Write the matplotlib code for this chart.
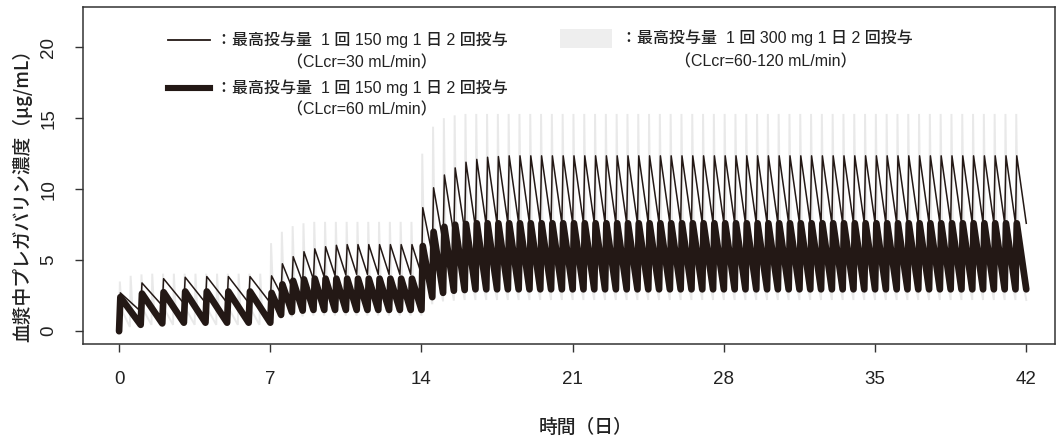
import numpy as np
import matplotlib
matplotlib.use("Agg")
import matplotlib.pyplot as plt
from matplotlib import font_manager
from matplotlib.patches import Rectangle
from matplotlib.lines import Line2D

# ---------------------------------------------------------------- data
# Dosing phases (days) and number of doses per day in each phase
phase_bounds = [0, 7, 14, 42]
doses_per_day_renal = [1, 2, 2]    # CLcr 30 / 60 regimens
doses_per_day_normal = [2, 2, 2]   # CLcr 60-120 regimen

# 150 mg BID, CLcr = 30 mL/min : pre-dose trough and post-dose peak (ug/mL)
thin_trough = ([0.0, 1.4, 1.8, 1.95, 2.0, 2.0, 2.0]
               + [2.0, 2.6, 3.1, 3.45, 3.65, 3.8, 3.9, 3.95, 4.0, 4.0, 4.0, 4.0, 4.0, 4.0]
               + [4.0, 5.4, 6.3, 6.8, 7.1, 7.3, 7.45, 7.55, 7.6, 7.6, 7.6, 7.6, 7.6, 7.6,
                  7.6, 7.6, 7.6, 7.6, 7.6, 7.6, 7.6, 7.6, 7.6, 7.6, 7.6, 7.6, 7.6, 7.6,
                  7.6, 7.6, 7.6, 7.6, 7.6, 7.6, 7.6, 7.6, 7.6, 7.6, 7.6, 7.6, 7.6, 7.6,
                  7.6, 7.6, 7.6, 7.6, 7.6, 7.6, 7.6, 7.6, 7.6, 7.6, 7.6, 7.6, 7.6, 7.6])
thin_peak = ([2.7, 3.4, 3.7, 3.8, 3.85, 3.85, 3.85]
             + [3.9, 4.75, 5.25, 5.6, 5.8, 5.95, 6.05, 6.1, 6.1, 6.1, 6.1, 6.1, 6.1, 6.1]
             + [8.7, 10.1, 11.0, 11.5, 11.9, 12.1, 12.25, 12.3, 12.35, 12.35, 12.35, 12.35, 12.35, 12.35,
                12.35, 12.35, 12.35, 12.35, 12.35, 12.35, 12.35, 12.35, 12.35, 12.35, 12.35, 12.35, 12.35, 12.35,
                12.35, 12.35, 12.35, 12.35, 12.35, 12.35, 12.35, 12.35, 12.35, 12.35, 12.35, 12.35, 12.35, 12.35,
                12.35, 12.35, 12.35, 12.35, 12.35, 12.35, 12.35, 12.35, 12.35, 12.35, 12.35, 12.35, 12.35, 12.35])
thin_end = 7.6

# 150 mg BID, CLcr = 60 mL/min
thick_trough = ([0.0, 0.45, 0.55, 0.6, 0.6, 0.6, 0.6]
                + [0.6, 1.15, 1.35, 1.45, 1.5, 1.5, 1.5, 1.5, 1.5, 1.5, 1.5, 1.5, 1.5, 1.5]
                + [1.5, 2.4, 2.7, 2.85, 2.9, 2.95, 2.95, 2.95, 2.95, 2.95, 2.95, 2.95, 2.95, 2.95,
                   2.95, 2.95, 2.95, 2.95, 2.95, 2.95, 2.95, 2.95, 2.95, 2.95, 2.95, 2.95, 2.95, 2.95,
                   2.95, 2.95, 2.95, 2.95, 2.95, 2.95, 2.95, 2.95, 2.95, 2.95, 2.95, 2.95, 2.95, 2.95,
                   2.95, 2.95, 2.95, 2.95, 2.95, 2.95, 2.95, 2.95, 2.95, 2.95, 2.95, 2.95, 2.95, 2.95])
thick_peak = ([2.4, 2.65, 2.75, 2.8, 2.8, 2.8, 2.8]
              + [2.7, 3.3, 3.55, 3.65, 3.7, 3.7, 3.7, 3.7, 3.7, 3.7, 3.7, 3.7, 3.7, 3.7]
              + [6.0, 7.0, 7.35, 7.5, 7.55, 7.6, 7.6, 7.6, 7.6, 7.6, 7.6, 7.6, 7.6, 7.6,
                 7.6, 7.6, 7.6, 7.6, 7.6, 7.6, 7.6, 7.6, 7.6, 7.6, 7.6, 7.6, 7.6, 7.6,
                 7.6, 7.6, 7.6, 7.6, 7.6, 7.6, 7.6, 7.6, 7.6, 7.6, 7.6, 7.6, 7.6, 7.6,
                 7.6, 7.6, 7.6, 7.6, 7.6, 7.6, 7.6, 7.6, 7.6, 7.6, 7.6, 7.6, 7.6, 7.6])
thick_end = 2.95

# 300 mg BID, CLcr = 60-120 mL/min
gray_trough = ([0.0, 0.3, 0.4, 0.45, 0.45, 0.45, 0.45, 0.45, 0.45, 0.45, 0.45, 0.45, 0.45, 0.45]
               + [0.45, 0.9, 1.0, 1.05, 1.1, 1.1, 1.1, 1.1, 1.1, 1.1, 1.1, 1.1, 1.1, 1.1]
               + [1.1, 1.9, 2.1, 2.15, 2.2, 2.2, 2.2, 2.2, 2.2, 2.2, 2.2, 2.2, 2.2, 2.2,
                  2.2, 2.2, 2.2, 2.2, 2.2, 2.2, 2.2, 2.2, 2.2, 2.2, 2.2, 2.2, 2.2, 2.2,
                  2.2, 2.2, 2.2, 2.2, 2.2, 2.2, 2.2, 2.2, 2.2, 2.2, 2.2, 2.2, 2.2, 2.2,
                  2.2, 2.2, 2.2, 2.2, 2.2, 2.2, 2.2, 2.2, 2.2, 2.2, 2.2, 2.2, 2.2, 2.2])
gray_peak = ([3.5, 3.9, 4.0, 4.05, 4.05, 4.05, 4.05, 4.05, 4.05, 4.05, 4.05, 4.05, 4.05, 4.05]
             + [6.2, 7.0, 7.4, 7.6, 7.7, 7.7, 7.7, 7.7, 7.7, 7.7, 7.7, 7.7, 7.7, 7.7]
             + [12.5, 14.4, 15.0, 15.2, 15.3, 15.3, 15.3, 15.3, 15.3, 15.3, 15.3, 15.3, 15.3, 15.3,
                15.3, 15.3, 15.3, 15.3, 15.3, 15.3, 15.3, 15.3, 15.3, 15.3, 15.3, 15.3, 15.3, 15.3,
                15.3, 15.3, 15.3, 15.3, 15.3, 15.3, 15.3, 15.3, 15.3, 15.3, 15.3, 15.3, 15.3, 15.3,
                15.3, 15.3, 15.3, 15.3, 15.3, 15.3, 15.3, 15.3, 15.3, 15.3, 15.3, 15.3, 15.3, 15.3])
gray_fall = [1.5, 3.0, 5.5]   # level at the end of the rapid post-peak decline, per phase
gray_end = 2.2

x_ticks = [0, 7, 14, 21, 28, 35, 42]
y_ticks = [0, 5, 10, 15, 20]

legend_main = "：最高投与量  1 回 150 mg 1 日 2 回投与"
legend_main_300 = "：最高投与量  1 回 300 mg 1 日 2 回投与"
legend_sub = ["（CLcr=30 mL/min）", "（CLcr=60 mL/min）", "（CLcr=60-120 mL/min）"]
x_label = "時間（日）"
y_label = "血漿中プレガバリン濃度（μg/mL）"

# ---------------------------------------------------------------- helpers
T_PEAK = 0.06     # time from dose to peak (days)
T_FALL = 0.12     # duration of the rapid decline for the 60-120 regimen (days)


def dose_times(per_day):
    times = []
    for (a, b), n in zip(zip(phase_bounds[:-1], phase_bounds[1:]), per_day):
        times.extend(list(np.arange(a, b, 1.0 / n)))
    return times


def sawtooth(per_day, trough, peak, end):
    t = dose_times(per_day)
    xs, ys = [], []
    for ti, lo, hi in zip(t, trough, peak):
        xs += [ti, ti + T_PEAK]
        ys += [lo, hi]
    xs.append(phase_bounds[-1])
    ys.append(end)
    return xs, ys


def spikes(per_day, trough, peak, fall, end):
    t = dose_times(per_day)
    xs, ys = [], []
    for ti, lo, hi in zip(t, trough, peak):
        k = np.searchsorted(phase_bounds, ti, side="right") - 1
        xs += [ti, ti + T_PEAK * 0.6, ti + T_FALL]
        ys += [lo, hi, fall[k]]
    xs.append(phase_bounds[-1])
    ys.append(end)
    return xs, ys


# ---------------------------------------------------------------- fonts
installed = {f.name for f in font_manager.fontManager.ttflist}
num_font = "Liberation Sans" if "Liberation Sans" in installed else "DejaVu Sans"
jp_font = ["Noto Sans CJK JP", "DejaVu Sans"]
mixed_font = [num_font, "Noto Sans CJK JP", "DejaVu Sans"]
plt.rcParams["font.family"] = jp_font

INK = "#231815"
GRAY = "#e9e9e9"
TEXT = "#222222"

# ---------------------------------------------------------------- figure
fig = plt.figure(figsize=(10.59, 4.41), dpi=100)
ax = fig.add_axes([83 / 1059, 1 - 344 / 441, 972 / 1059, 337.3 / 441])

gx, gy = spikes(doses_per_day_normal, gray_trough, gray_peak, gray_fall, gray_end)
ax.plot(gx, gy, color=GRAY, lw=1.4, zorder=1, solid_joinstyle="miter")

kx, ky = sawtooth(doses_per_day_renal, thick_trough, thick_peak, thick_end)
ax.plot(kx, ky, color=INK, lw=4.8, zorder=2, solid_joinstyle="round",
        solid_capstyle="round")

tx, ty = sawtooth(doses_per_day_renal, thin_trough, thin_peak, thin_end)
ax.plot(tx, ty, color=INK, lw=1.1, zorder=3)

ax.set_xlim(-1.67, 43.33)
ax.set_ylim(-0.9, 22.85)
ax.set_xticks(x_ticks)
ax.set_yticks(y_ticks)
ax.set_xticklabels([str(v) for v in x_ticks], family=num_font, fontsize=13.5)
ax.set_yticklabels([str(v) for v in y_ticks], family=num_font, fontsize=13.5,
                   rotation=90, va="center")
ax.tick_params(axis="both", direction="out", length=5.5, width=1.0,
               color="#333333", labelcolor=TEXT)
ax.tick_params(axis="x", pad=14)
ax.tick_params(axis="y", pad=13)
for s in ax.spines.values():
    s.set_linewidth(1.1)
    s.set_color("#333333")

ax.text(-0.063, 0.454, y_label, transform=ax.transAxes, rotation=90,
        ha="center", va="center", fontsize=13.5, color=TEXT, fontweight="medium")
ax.text(0.5165, -0.246, x_label, transform=ax.transAxes,
        ha="center", va="center", fontsize=13.5, color=TEXT, fontweight="medium")

# ---------------------------------------------------------------- legend
lg = dict(transform=ax.transAxes, va="center", fontsize=11.5, color=TEXT,
          family=mixed_font, fontweight="medium")
ax.add_line(Line2D([0.0874, 0.1307], [0.901, 0.901], transform=ax.transAxes,
                   color=INK, lw=1.3))
ax.text(0.137, 0.901, legend_main, ha="left", **lg)
ax.text(0.287, 0.833, legend_sub[0], ha="center", **lg)

ax.add_line(Line2D([0.0874, 0.1307], [0.759, 0.759], transform=ax.transAxes,
                   color=INK, lw=4.4))
ax.text(0.137, 0.759, legend_main, ha="left", **lg)
ax.text(0.287, 0.693, legend_sub[1], ha="center", **lg)

ax.add_patch(Rectangle((0.491, 0.878), 0.053, 0.056, transform=ax.transAxes,
                       facecolor="#eeeeee", edgecolor="none"))
ax.text(0.554, 0.907, legend_main_300, ha="left", **lg)
ax.text(0.702, 0.836, legend_sub[2], ha="center", **lg)

fig.savefig("out.png", dpi=100)
